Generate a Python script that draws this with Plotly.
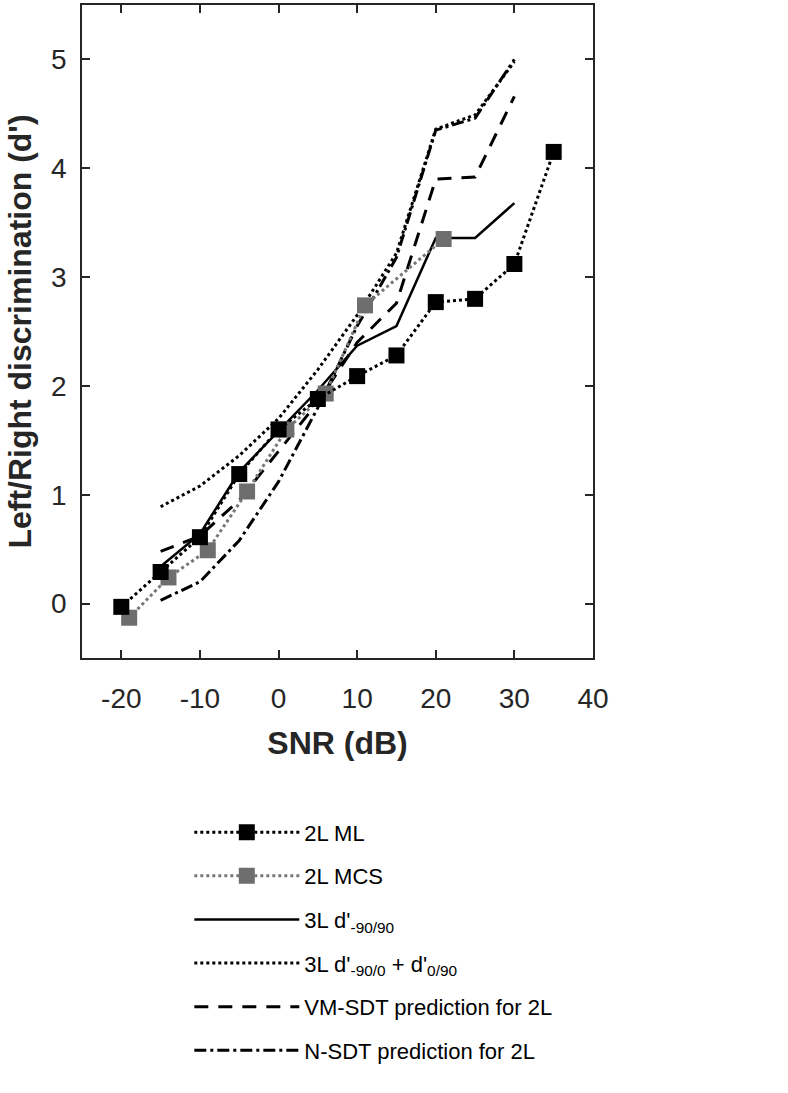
import plotly.graph_objects as go

# Data
x_ml = [-20, -15, -10, -5, 0, 5, 10, 15, 20, 25, 30, 35]
y_ml = [-0.03, 0.29, 0.61, 1.19, 1.60, 1.88, 2.09, 2.28, 2.77, 2.80, 3.12, 4.15]

x_mcs = [-19, -14, -9, -4, 1, 6, 11, 21]
y_mcs = [-0.13, 0.24, 0.49, 1.03, 1.60, 1.93, 2.74, 3.35]

x_3l = [-15, -10, -5, 0, 5, 10, 15, 20, 25, 30]
y_3l_9090 = [0.34, 0.64, 1.21, 1.59, 1.96, 2.37, 2.55, 3.36, 3.36, 3.68]
y_3l_sum = [0.89, 1.08, 1.36, 1.70, 2.15, 2.65, 3.22, 4.36, 4.49, 4.98]
y_vm = [0.48, 0.62, 0.95, 1.40, 1.85, 2.40, 2.76, 3.90, 3.92, 4.66]
y_n = [0.03, 0.20, 0.58, 1.12, 1.80, 2.55, 3.18, 4.35, 4.46, 5.00]

x_ticks = [-20, -10, 0, 10, 20, 30, 40]
y_ticks = [0, 1, 2, 3, 4, 5]

FONT = "Liberation Sans"

fig = go.Figure()

fig.add_trace(go.Scatter(x=x_3l, y=y_3l_sum, mode="lines", name="3L d'<sub>-90/0</sub> + d'<sub>0/90</sub>",
                         line=dict(color="black", width=3, dash="dot"), legendgroup="d", legendrank=4))
fig.add_trace(go.Scatter(x=x_3l, y=y_n, mode="lines", name="N-SDT prediction for 2L",
                         line=dict(color="black", width=3, dash="12px,4px,3px,4px"), legendgroup="f", legendrank=6))
fig.add_trace(go.Scatter(x=x_3l, y=y_vm, mode="lines", name="VM-SDT prediction for 2L",
                         line=dict(color="black", width=3, dash="14px,10px"), legendgroup="e", legendrank=5))
fig.add_trace(go.Scatter(x=x_3l, y=y_3l_9090, mode="lines", name="3L d'<sub>-90/90</sub>",
                         line=dict(color="black", width=2.5), legendgroup="c", legendrank=3))
fig.add_trace(go.Scatter(x=x_mcs, y=y_mcs, mode="lines+markers", name="2L MCS",
                         line=dict(color="#777777", width=3, dash="dot"),
                         marker=dict(symbol="square", size=16, color="#6e6e6e"), legendgroup="b", legendrank=2))
fig.add_trace(go.Scatter(x=x_ml, y=y_ml, mode="lines+markers", name="2L ML",
                         line=dict(color="black", width=3, dash="dot"),
                         marker=dict(symbol="square", size=16, color="black"), legendgroup="a", legendrank=1))

axis_common = dict(
    showline=True, linecolor="#262626", linewidth=1.5, mirror="ticks",
    ticks="inside", ticklen=8, tickwidth=1.5, tickcolor="#262626",
    showgrid=False, zeroline=False,
    tickfont=dict(family=FONT, size=28, color="#262626"),
)

fig.update_layout(
    width=788, height=1093,
    paper_bgcolor="white", plot_bgcolor="white",
    margin=dict(l=82, r=195, t=3, b=435),
    font=dict(family=FONT, color="#262626"),
    xaxis=dict(range=[-25, 40], tickvals=x_ticks, ticktext=[str(v) for v in x_ticks],
               ticklabelstandoff=15,
               title=dict(text="<b>SNR (dB)</b>", font=dict(family=FONT, size=32, color="#262626"), standoff=18),
               **axis_common),
    yaxis=dict(range=[-0.5, 5.5], tickvals=y_ticks, ticktext=[str(v) for v in y_ticks],
               ticklabelstandoff=8,
               title=dict(text="<b>Left/Right discrimination (d')</b>", font=dict(family=FONT, size=32, color="#262626"), standoff=10),
               **axis_common),
    showlegend=True,
    legend=dict(
        x=0.21, y=-0.235, xanchor="left", yanchor="top",
        font=dict(family=FONT, size=22, color="black"),
        bgcolor="rgba(0,0,0,0)", borderwidth=0,
        traceorder="grouped", tracegroupgap=12, itemwidth=105,
    ),
)

fig.write_html("out.html", config={"displayModeBar": False},
               post_script="document.body.style.margin='0px';")
